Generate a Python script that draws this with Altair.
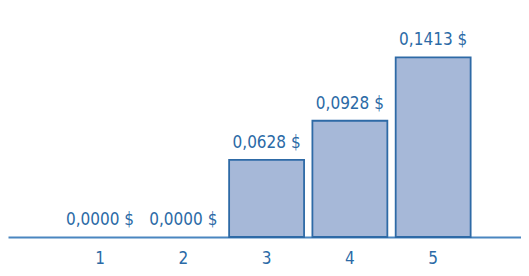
import altair as alt
import pandas as pd

quintiles = ["1", "2", "3", "4", "5"]
values = [0.0, 0.0, 0.0628, 0.0928, 0.1413]
labels = ["0,0000 $", "0,0000 $", "0,0628 $", "0,0928 $", "0,1413 $"]

df = pd.DataFrame({"q": quintiles, "v": values, "lab": labels})

FONT = "DejaVu Sans Condensed"
TXT = "#2b6aa6"

x = alt.X("q:N", sort=quintiles,
          scale=alt.Scale(paddingInner=0.1, paddingOuter=0.63, align=0.52),
          axis=alt.Axis(title=None, labelAngle=0, ticks=False, labelPadding=13,
                        labelFont=FONT, labelFontSize=17, labelColor=TXT,
                        domainColor="#4a86c0", domainWidth=2))
y = alt.Y("v:Q", scale=alt.Scale(domain=[0.0038, 0.1791], clamp=True, nice=False, zero=False),
          axis=None)

bars = alt.Chart(df).mark_bar(fill="#a6b8d8", stroke="#2e6aa6", strokeWidth=1.8).encode(
    x=x, y=y,
    strokeOpacity=alt.condition("datum.v > 0", alt.value(1), alt.value(0)),
)
text = alt.Chart(df).mark_text(font=FONT, fontSize=17, color=TXT, dy=-12, baseline="alphabetic").encode(
    x=x, y=y, text="lab:N"
)

chart = (bars + text).properties(
    width=513, height=229,
    autosize=alt.AutoSizeParams(type="none"),
    padding={"left": 0, "top": 0, "right": 0, "bottom": 31},
).configure_view(stroke=None)

chart.save("out.html", embed_options={"renderer": "svg", "actions": False})
